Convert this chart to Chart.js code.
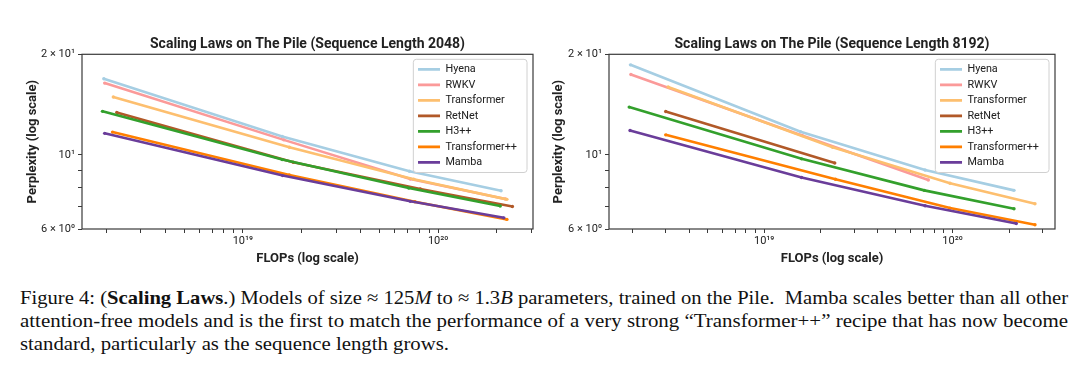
<!DOCTYPE html>
<html><head><meta charset="utf-8">
<script src="https://cdn.jsdelivr.net/npm/chart.js@4.4.1/dist/chart.umd.min.js"></script>
<style>
html,body{margin:0;padding:0;background:#fff;width:1080px;height:373px;overflow:hidden;}
#c1{position:absolute;left:0;top:30px;}
#c2{position:absolute;left:540px;top:30px;}
#caption{position:absolute;left:20px;top:286px;width:1048px;font-family:"Liberation Serif","Times New Roman",serif;font-size:19px;line-height:23px;color:#111;}
.ln{white-space:nowrap;height:23px;}
.ln span{display:inline-block;transform-origin:0 0;}
</style></head><body>
<canvas id="c1" width="545" height="245"></canvas>
<canvas id="c2" width="540" height="245"></canvas>
<div id="caption">
<div class="ln"><span>Figure 4: (<b>Scaling Laws</b>.) Models of size ≈ 125<i>M</i> to ≈ 1.3<i>B</i> parameters, trained on the Pile.&nbsp; Mamba scales better than all other</span></div>
<div class="ln"><span>attention-free models and is the first to match the performance of a very strong “Transformer++” recipe that has now become</span></div>
<div class="ln"><span>standard, particularly as the sequence length grows.</span></div>
</div>
<script>
// ---- data ----
const seriesNames = ['Hyena', 'RWKV', 'Transformer', 'RetNet', 'H3++', 'Transformer++', 'Mamba'];
const seriesColors = ['#a6cee3', '#fb9a99', '#fdbf6f', '#b15928', '#33a02c', '#ff7f00', '#6a3d9a'];

// Sequence length 2048
const hyenaFlops2048 = [1.94e18, 1.59e19, 7.13e19, 2.10e20];
const hyenaPpl2048 = [16.9, 11.35, 8.93, 7.81];
const rwkvFlops2048 = [1.96e18, 1.62e19, 7.2e19, 2.21e20];
const rwkvPpl2048 = [16.4, 11.09, 8.47, 7.38];
const transformerFlops2048 = [2.17e18, 1.73e19, 7.5e19, 2.25e20];
const transformerPpl2048 = [14.9, 10.54, 8.45, 7.36];
const retnetFlops2048 = [2.26e18, 1.81e19, 8.1e19, 2.40e20];
const retnetPpl2048 = [13.4, 9.50, 7.91, 7.01];
const h3Flops2048 = [1.91e18, 1.59e19, 7.07e19, 2.08e20];
const h3Ppl2048 = [13.5, 9.68, 7.96, 7.03];
const transformerPPFlops2048 = [2.15e18, 1.73e19, 7.6e19, 2.25e20];
const transformerPPPpl2048 = [11.7, 8.71, 7.24, 6.41];
const mambaFlops2048 = [1.96e18, 1.60e19, 7.2e19, 2.17e20];
const mambaPpl2048 = [11.6, 8.67, 7.26, 6.48];

// Sequence length 8192
const hyenaFlops8192 = [1.95e18, 1.56e19, 7.15e19, 2.12e20];
const hyenaPpl8192 = [18.6, 11.73, 9.01, 7.83];
const rwkvFlops8192 = [1.96e18, 1.59e19, 7.44e19];
const rwkvPpl8192 = [17.4, 11.43, 8.41];
const transformerFlops8192 = [3.09e18, 2.31e19, 9.7e19, 2.74e20];
const transformerPpl8192 = [15.96, 10.54, 8.22, 7.14];
const retnetFlops8192 = [3.0e18, 2.37e19];
const retnetPpl8192 = [13.49, 9.46];
const h3Flops8192 = [1.92e18, 1.58e19, 7.08e19, 2.12e20];
const h3Ppl8192 = [13.9, 9.73, 7.83, 6.90];
const transformerPPFlops8192 = [3.0e18, 2.39e19, 9.7e19, 2.74e20];
const transformerPPPpl8192 = [11.48, 8.45, 6.93, 6.18];
const mambaFlops8192 = [1.94e18, 1.58e19, 7.15e19, 2.18e20];
const mambaPpl8192 = [11.83, 8.56, 7.04, 6.23];

// ticks
const yTickValues = [6, 7, 8, 9, 10, 20];
const yTickLabels = ['6 × 10⁰', '', '', '', '10¹', '2 × 10¹'];
const xTickValues = [2e18, 3e18, 4e18, 5e18, 6e18, 7e18, 8e18, 9e18, 1e19, 2e19, 3e19, 4e19, 5e19, 6e19, 7e19, 8e19, 9e19, 1e20, 2e20, 3e20];
const xTickLabels = ['', '', '', '', '', '', '', '', '10¹⁹', '', '', '', '', '', '', '', '', '10²⁰', '', ''];

const titles = ['Scaling Laws on The Pile (Sequence Length 2048)', 'Scaling Laws on The Pile (Sequence Length 8192)'];
const xAxisTitle = 'FLOPs (log scale)';
const yAxisTitle = 'Perplexity (log scale)';

// ---- caption fitting (justify each full line to the column width) ----
(function fitCaption() {
  const spans = document.querySelectorAll('#caption .ln span');
  const target = 1048;
  const s1 = target / spans[0].getBoundingClientRect().width;
  const s2 = target / spans[1].getBoundingClientRect().width;
  spans[0].style.transform = 'scaleX(' + s1 + ')';
  spans[1].style.transform = 'scaleX(' + s2 + ')';
  spans[2].style.transform = 'scaleX(' + ((s1 + s2) / 2) + ')';
})();

// ---- chart construction ----
Chart.defaults.font.family = 'Roboto, "Liberation Sans", sans-serif';
Chart.defaults.color = '#222';

function labelFor(values, labels, v) {
  for (let i = 0; i < values.length; i++) if (Math.abs(values[i] - v) / values[i] < 1e-6) return labels[i];
  return '';
}

const framePlugin = {
  id: 'frame',
  afterDatasetsDraw(chart) {
    const {ctx, chartArea: a} = chart;
    ctx.save();
    ctx.strokeStyle = '#3a3a3a';
    ctx.lineWidth = 1.2;
    ctx.strokeRect(a.left, a.top, a.right - a.left, a.bottom - a.top);
    ctx.restore();
  }
};

const legendPlace = {
  id: 'legendPlace',
  afterLayout(chart) {
    const lg = chart.legend, a = chart.chartArea;
    const pad = lg.options.labels.padding;
    let h = pad;
    for (const hb of lg.legendHitBoxes) h += hb.height + pad;
    const w = lg.width;
    lg.height = h;
    lg.left = a.right - w - 6;
    lg.top = a.top + 5;
    lg.right = lg.left + w;
    lg.bottom = lg.top + h;
  },
  afterDatasetsDraw(chart) {
    const lg = chart.legend, ctx = chart.ctx;
    const x = lg.left, y = lg.top, w = lg.width, h = lg.height, r = 3;
    ctx.save();
    ctx.beginPath();
    ctx.moveTo(x + r, y);
    ctx.arcTo(x + w, y, x + w, y + h, r);
    ctx.arcTo(x + w, y + h, x, y + h, r);
    ctx.arcTo(x, y + h, x, y, r);
    ctx.arcTo(x, y, x + w, y, r);
    ctx.closePath();
    ctx.fillStyle = 'rgba(255,255,255,0.92)';
    ctx.fill();
    ctx.strokeStyle = '#d0d0d0';
    ctx.lineWidth = 1;
    ctx.stroke();
    ctx.restore();
    lg.draw();
  }
};

function makeChart(id, title, xs, ys, xMin, xMax, yWidth, yTitlePad, padRight) {
  const datasets = seriesNames.map((name, i) => ({
    label: name,
    data: xs[i].map((x, j) => ({x: x, y: ys[i][j]})),
    borderColor: seriesColors[i],
    backgroundColor: seriesColors[i],
    borderWidth: 2.6,
    pointRadius: 1.7,
    pointBorderWidth: 0,
    pointBackgroundColor: seriesColors[i],
    tension: 0,
    order: seriesNames.length - i
  }));
  return new Chart(document.getElementById(id), {
    type: 'line',
    data: {datasets},
    options: {
      responsive: false,
      animation: false,
      devicePixelRatio: 1,
      layout: {padding: {left: 0, right: padRight, top: 0, bottom: 0}},
      plugins: {
        title: {display: true, fullSize: false, text: title, font: {size: 14, weight: 'bold'}, color: '#222', padding: {top: 5.6, bottom: 1.9}},
        legend: {
          display: true, position: 'chartArea', align: 'start',
          labels: {
            usePointStyle: true, pointStyle: 'line', pointStyleWidth: 22,
            font: {size: 10.8}, color: '#222', padding: 4.7,
            generateLabels: ch => ch.data.datasets.map((ds, i) => ({
              text: ds.label, fillStyle: ds.borderColor, strokeStyle: ds.borderColor,
              lineWidth: 2.6, pointStyle: 'line', hidden: false, datasetIndex: i, fontColor: '#222'
            }))
          }
        },
        tooltip: {enabled: false}
      },
      scales: {
        x: {
          type: 'logarithmic', min: xMin, max: xMax,
          afterBuildTicks: s => { s.ticks = xTickValues.map(v => ({value: v})); },
          afterFit: s => { s.height = 46; },
          ticks: {autoSkip: false, maxRotation: 0, font: {size: 11}, color: '#222', padding: 2,
                  callback: v => labelFor(xTickValues, xTickLabels, v)},
          grid: {drawOnChartArea: false, drawTicks: true, tickLength: 4, tickColor: '#3a3a3a'},
          border: {display: false},
          title: {display: true, text: xAxisTitle, font: {size: 13, weight: 'bold'}, color: '#222', padding: {top: 0, bottom: 8.2}}
        },
        y: {
          type: 'logarithmic', min: 6, max: 20,
          afterBuildTicks: s => { s.ticks = yTickValues.map(v => ({value: v})); },
          afterFit: s => { s.width = yWidth; },
          ticks: {autoSkip: false, font: {size: 11}, color: '#222', padding: 3,
                  callback: v => labelFor(yTickValues, yTickLabels, v)},
          grid: {drawOnChartArea: false, drawTicks: true, tickLength: 4, tickColor: '#3a3a3a'},
          border: {display: false},
          title: {display: true, text: yAxisTitle, font: {size: 13, weight: 'bold'}, color: '#222', padding: {top: yTitlePad, bottom: 0}}
        }
      }
    },
    plugins: [legendPlace, framePlugin]
  });
}

const xs2048 = [hyenaFlops2048, rwkvFlops2048, transformerFlops2048, retnetFlops2048, h3Flops2048, transformerPPFlops2048, mambaFlops2048];
const ys2048 = [hyenaPpl2048, rwkvPpl2048, transformerPpl2048, retnetPpl2048, h3Ppl2048, transformerPPPpl2048, mambaPpl2048];
const xs8192 = [hyenaFlops8192, rwkvFlops8192, transformerFlops8192, retnetFlops8192, h3Flops8192, transformerPPFlops8192, mambaFlops8192];
const ys8192 = [hyenaPpl8192, rwkvPpl8192, transformerPpl8192, retnetPpl8192, h3Ppl8192, transformerPPPpl8192, mambaPpl8192];

makeChart('c1', titles[0], xs2048, ys2048, 1.5e18, 3.06e20, 82, 25.2, 12);
makeChart('c2', titles[1], xs8192, ys8192, 1.5e18, 3.5e20, 69, 11.1, 25);
</script>
</body></html>
